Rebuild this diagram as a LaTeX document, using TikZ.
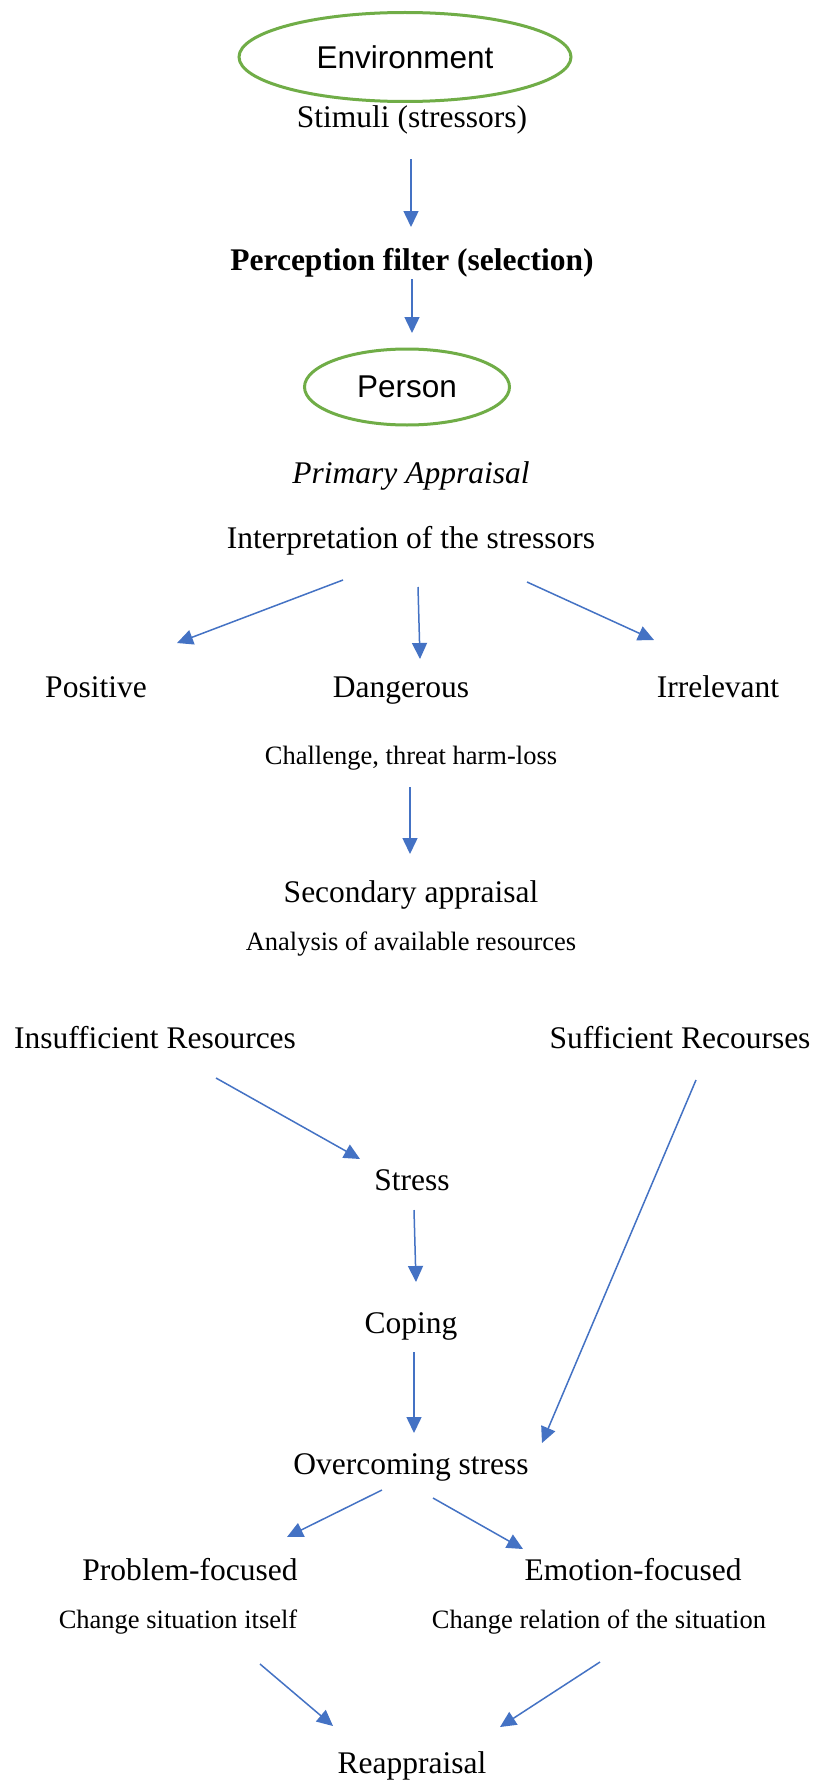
\documentclass[tikz,border=0pt]{standalone}
\usepackage{fontspec}
\setmainfont{Liberation Serif}
\newfontfamily\arialfont{Liberation Sans}
\usetikzlibrary{shapes.geometric,arrows.meta}
\definecolor{ellgreen}{HTML}{70AD47}
\definecolor{arrblue}{HTML}{4472C4}
\tikzset{
  big/.style={inner sep=0pt, anchor=base, font=\fontsize{31.5}{36}\selectfont},
  small/.style={inner sep=0pt, anchor=base, font=\fontsize{26.5}{30}\selectfont},
  oval/.style={ellipse, draw=ellgreen, line width=3pt, inner sep=0pt, font=\arialfont\fontsize{31.5}{36}\selectfont},
  conn/.style={draw=arrblue, line width=1.5pt, -{Triangle[length=16pt,width=15pt]}, arrblue},
}
\begin{document}
\begin{tikzpicture}[x=1pt,y=-1pt]
\useasboundingbox (0,0) rectangle (816,1782);
\fill[white] (0,0) rectangle (816,1782);
% nodes
\node[oval, minimum width=332pt, minimum height=89pt] (env) at (405,57) {Environment};
\node[big] (stim) at (412,128) {Stimuli (stressors)};
\node[big, font=\bfseries\fontsize{31.5}{36}\selectfont] (perc) at (412,270) {Perception filter (selection)};
\node[oval, minimum width=205pt, minimum height=76pt] (person) at (407,387) {Person};
\node[big, font=\itshape\fontsize{31.5}{36}\selectfont] (prim) at (411,483) {Primary Appraisal};
\node[big] (interp) at (411,548) {Interpretation of the stressors};
\node[big] (pos) at (96,697) {Positive};
\node[big] (dang) at (401,697) {Dangerous};
\node[big] (irr) at (718,697) {Irrelevant};
\node[small] (chal) at (411,764) {Challenge, threat harm-loss};
\node[big] (sec) at (411,902) {Secondary appraisal};
\node[small] (anal) at (411,950) {Analysis of available resources};
\node[big] (insuf) at (155,1048) {Insufficient Resources};
\node[big] (suf) at (680,1048) {Sufficient Recourses};
\node[big] (stress) at (412,1190) {Stress};
\node[big] (coping) at (411,1333) {Coping};
\node[big] (over) at (411,1474) {Overcoming stress};
\node[big] (prob) at (190,1580) {Problem-focused};
\node[big] (emo) at (633,1580) {Emotion-focused};
\node[small] (chs) at (178,1628) {Change situation itself};
\node[small] (chr) at (599,1628) {Change relation of the situation};
\node[big] (reap) at (412,1773) {Reappraisal};
% connector end points
\coordinate (a1s) at (411,159);  \coordinate (a1e) at (411,227);
\coordinate (a2s) at (412,279);  \coordinate (a2e) at (412,333);
\coordinate (a3s) at (343,580);  \coordinate (a3e) at (177,643);
\coordinate (a4s) at (418,587);  \coordinate (a4e) at (420,659);
\coordinate (a5s) at (527,582);  \coordinate (a5e) at (654,640);
\coordinate (a6s) at (410,787);  \coordinate (a6e) at (410,854);
\coordinate (a7s) at (216,1078); \coordinate (a7e) at (360,1159);
\coordinate (a8s) at (414,1210); \coordinate (a8e) at (416,1282);
\coordinate (a9s) at (414,1352); \coordinate (a9e) at (414,1433);
\coordinate (a10s) at (696,1080); \coordinate (a10e) at (542,1443);
\coordinate (a11s) at (382,1490); \coordinate (a11e) at (287,1537);
\coordinate (a12s) at (433,1498); \coordinate (a12e) at (523,1549);
\coordinate (a13s) at (260,1664); \coordinate (a13e) at (333,1726);
\coordinate (a14s) at (600,1662); \coordinate (a14e) at (500,1727);
% connectors
\draw[conn] (a1s) -- (a1e);
\draw[conn] (a2s) -- (a2e);
\draw[conn] (a3s) -- (a3e);
\draw[conn] (a4s) -- (a4e);
\draw[conn] (a5s) -- (a5e);
\draw[conn] (a6s) -- (a6e);
\draw[conn] (a7s) -- (a7e);
\draw[conn] (a8s) -- (a8e);
\draw[conn] (a9s) -- (a9e);
\draw[conn] (a10s) -- (a10e);
\draw[conn] (a11s) -- (a11e);
\draw[conn] (a12s) -- (a12e);
\draw[conn] (a13s) -- (a13e);
\draw[conn] (a14s) -- (a14e);
\end{tikzpicture}
\end{document}
